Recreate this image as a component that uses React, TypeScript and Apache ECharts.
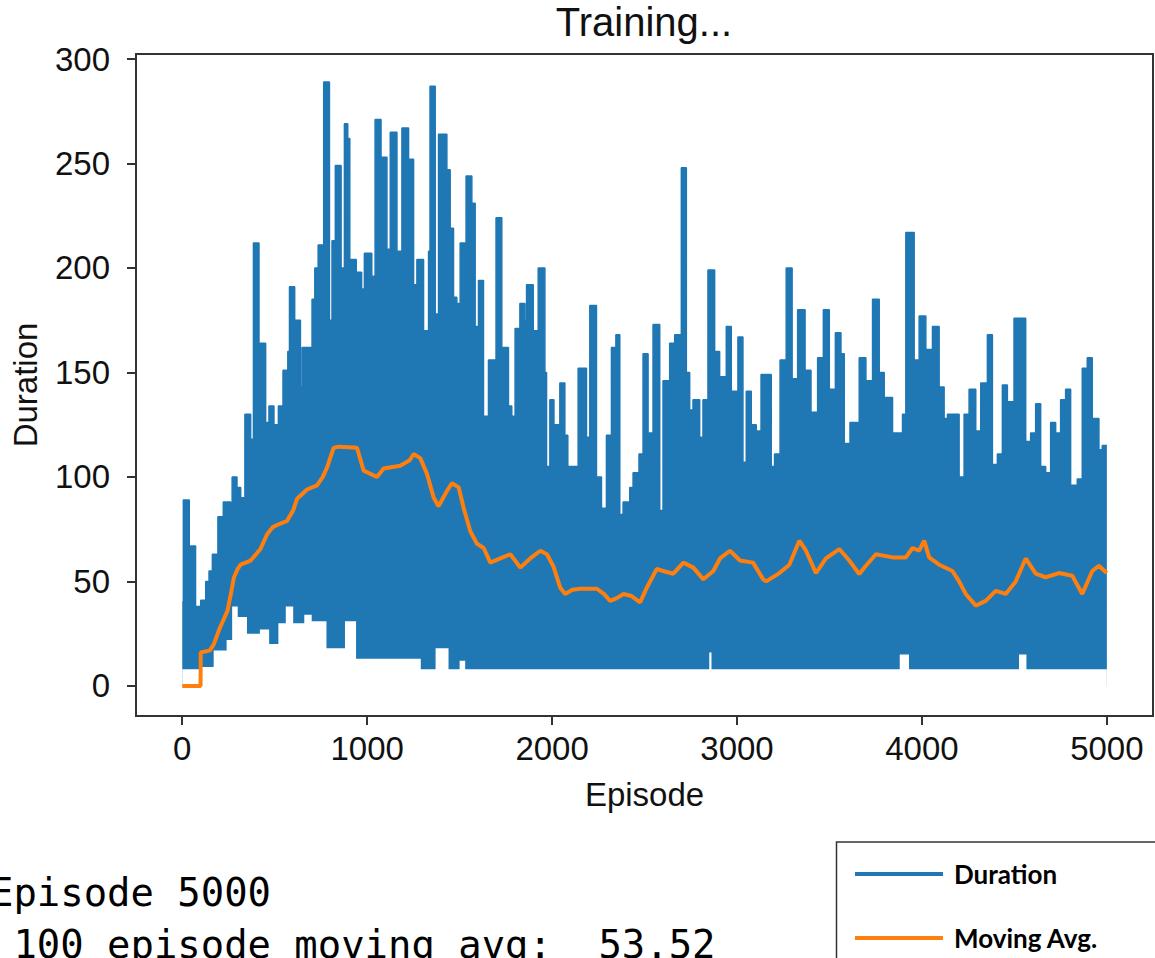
import React, { useEffect, useRef } from "react";
import * as echarts from "echarts";

// Duration (upper envelope of the raw episode durations, held from each start episode to the next)
const durationEpisodes = [
  0, 6, 38, 72, 100, 127, 145, 163, 193, 222, 262, 270, 296, 316, 339, 370, 385, 415, 451, 469,
  496, 520, 545, 571, 580, 608, 639, 648, 702, 717, 735, 765, 796, 810, 828, 859, 877, 895, 906, 941,
  970, 985, 1025, 1043, 1075, 1107, 1125, 1161, 1188, 1224, 1251, 1269, 1305, 1332, 1340, 1368, 1386, 1431, 1449, 1467,
  1485, 1503, 1535, 1566, 1584, 1602, 1629, 1656, 1697, 1728, 1764, 1782, 1800, 1826, 1853, 1862, 1898, 1925, 1961, 1970,
  1988, 2010, 2042, 2069, 2085, 2141, 2186, 2204, 2240, 2267, 2294, 2321, 2345, 2366, 2384, 2420, 2438, 2470, 2492, 2519,
  2546, 2582, 2600, 2636, 2663, 2699, 2726, 2744, 2762, 2798, 2816, 2843, 2879, 2906, 2942, 2969, 3005, 3032, 3050, 3077,
  3104, 3130, 3185, 3203, 3233, 3266, 3298, 3328, 3368, 3400, 3436, 3467, 3499, 3532, 3562, 3580, 3611, 3661, 3697, 3733,
  3769, 3796, 3841, 3895, 3913, 3958, 3985, 4021, 4057, 4093, 4120, 4138, 4201, 4228, 4255, 4291, 4318, 4354, 4381, 4408,
  4435, 4462, 4498, 4561, 4588, 4615, 4642, 4669, 4696, 4723, 4750, 4777, 4804, 4840, 4867, 4894, 4921, 4957, 4975, 5000,
];
const durationValues = [
  40, 89, 67, 38, 41, 50, 55, 63, 81, 88, 82, 100, 95, 90, 130, 118, 212, 164, 126, 134,
  125, 134, 151, 160, 191, 175, 143, 162, 185, 200, 211, 289, 175, 213, 249, 200, 269, 262, 204, 198,
  190, 207, 196, 271, 253, 209, 265, 208, 267, 252, 192, 204, 170, 208, 287, 178, 264, 247, 219, 186,
  183, 212, 244, 231, 172, 194, 129, 156, 224, 162, 134, 129, 171, 183, 175, 192, 170, 200, 150, 105,
  137, 125, 145, 120, 105, 152, 119, 182, 100, 85, 120, 162, 168, 82, 88, 95, 102, 111, 159, 121,
  173, 84, 146, 164, 168, 248, 150, 132, 137, 119, 137, 199, 160, 148, 172, 141, 167, 107, 141, 125,
  122, 149, 105, 111, 156, 200, 147, 180, 151, 131, 157, 180, 142, 169, 159, 116, 126, 157, 146, 185,
  150, 138, 121, 130, 217, 156, 177, 161, 172, 143, 128, 130, 100, 130, 142, 122, 145, 168, 106, 111,
  144, 136, 176, 117, 121, 135, 105, 102, 126, 121, 137, 142, 96, 99, 152, 157, 128, 113, 115, 115,
];

// Lower envelope of the raw durations
const floorEpisodes = [0, 100, 170, 240, 270, 300, 350, 420, 470, 520, 560, 600, 660, 700, 780, 880, 940, 1290, 1370, 1440, 1500, 1530, 2850, 2862, 3880, 3930, 4525, 4565, 5000];
const floorValues = [8, 9, 17, 22, 38, 33, 25, 27, 20, 30, 38, 30, 34, 31, 18, 31, 13, 8, 18, 8, 12, 8, 16, 8, 15, 8, 15, 8, 8];

// 100-episode moving average
const avgEpisodes = [
  0, 99, 100, 150, 171, 200, 245, 265, 280, 300, 316, 370, 423, 459, 490, 513, 567, 600, 621, 675,
  729, 760, 783, 819, 850, 945, 981, 1053, 1089, 1179, 1230, 1251, 1287, 1323, 1360, 1386, 1432, 1459, 1495, 1522,
  1558, 1594, 1630, 1666, 1720, 1774, 1800, 1828, 1882, 1936, 1972, 2008, 2044, 2071, 2110, 2152, 2242, 2280, 2314, 2350,
  2386, 2430, 2476, 2512, 2566, 2600, 2656, 2710, 2764, 2818, 2872, 2908, 2962, 3016, 3087, 3141, 3158, 3229, 3283, 3337,
  3373, 3427, 3481, 3553, 3607, 3661, 3697, 3751, 3841, 3913, 3949, 3985, 4012, 4039, 4093, 4165, 4201, 4237, 4291, 4345,
  4399, 4453, 4507, 4561, 4615, 4669, 4741, 4813, 4867, 4921, 4957, 4999,
];
const avgValues = [
  0, 0, 16, 17, 20, 27, 36, 45, 52, 56, 58, 60, 65.5, 72.6, 76, 77, 79, 84, 89.6, 94,
  96, 100, 104.5, 114, 114.5, 114, 103, 100, 104, 105.4, 108, 111, 109, 101.6, 90, 86, 93.4, 97, 95, 85,
  74, 68, 66, 59, 61, 63, 60, 56.6, 61, 64.7, 63, 57, 47, 44, 46, 46.5, 46.5, 44, 40.7, 42,
  44, 43, 40, 47, 56, 55, 53.7, 59, 56.6, 51, 55, 61, 64.7, 60, 59, 51, 50, 54, 58, 69.5,
  64.7, 54, 61, 65.5, 60, 53.5, 57.5, 63, 61.5, 61.5, 66, 64.7, 69.5, 61.5, 58, 55, 50, 44, 38.4, 40.7,
  45.5, 44, 50, 61, 53.7, 52, 54, 52.7, 44, 55, 57.5, 54,
];

const xTicks = [0, 1000, 2000, 3000, 4000, 5000];
const yTicks = [0, 50, 100, 150, 200, 250, 300];

const SANS = "'Liberation Sans', Arial, sans-serif";
const MONO = "'DejaVu Sans Mono', monospace";

export default function App() {
  const ref = useRef<HTMLDivElement>(null);

  useEffect(() => {
    if (!ref.current) return;
    const chart = echarts.init(ref.current, undefined, { renderer: "svg" });
    const pairs = (xs: number[], ys: number[]) => xs.map((x, i) => [x, ys[i]]);
    const axisText = { fontSize: 33, color: "#111", fontFamily: SANS };
    const plain = (v: number) => String(v);

    chart.setOption({
      animation: false,
      textStyle: { fontFamily: SANS },
      grid: {
        left: 136,
        top: 54,
        right: 2,
        bottom: 242,
        show: true,
        borderColor: "#333",
        borderWidth: 2,
        backgroundColor: "transparent",
        containLabel: false,
      },
      xAxis: {
        type: "value",
        min: -250,
        max: 5249.5,
        axisLine: { show: false, onZero: false },
        splitLine: { show: false },
        axisTick: { show: true, customValues: xTicks, length: 9, lineStyle: { color: "#333", width: 2 } },
        axisLabel: { customValues: xTicks, margin: 16, formatter: plain, ...axisText },
        name: "Episode",
        nameLocation: "middle",
        nameGap: 62,
        nameTextStyle: axisText,
      },
      yAxis: {
        type: "value",
        min: -14.4,
        max: 302.4,
        axisLine: { show: false, onZero: false },
        splitLine: { show: false },
        axisTick: { show: true, customValues: yTicks, length: 9, lineStyle: { color: "#333", width: 2 } },
        axisLabel: { customValues: yTicks, margin: 26, formatter: plain, ...axisText },
        name: "Duration",
        nameLocation: "middle",
        nameGap: 94,
        nameTextStyle: axisText,
      },
      legend: {
        orient: "vertical",
        left: 836,
        top: 842,
        data: [
          { name: "Duration", icon: "rect" },
          { name: "Moving Avg.", icon: "rect" },
        ],
        itemWidth: 88,
        itemHeight: 4,
        itemGap: 38,
        padding: [19, 0, 0, 19],
        selectedMode: false,
        textStyle: {
          fontFamily: "Lato, 'Open Sans', sans-serif",
          fontWeight: "bold",
          fontSize: 26,
          lineHeight: 26,
          color: "#000",
          padding: [0, 0, 0, 6],
        },
      },
      graphic: [
        {
          type: "rect",
          shape: { x: 836.5, y: 842, width: 340, height: 131 },
          style: { fill: "none", stroke: "#333", lineWidth: 1.5 },
          silent: true,
        },
        {
          type: "text",
          x: 644,
          y: 22,
          style: { text: "Training...", fill: "#111", fontSize: 40, fontFamily: SANS, align: "center", verticalAlign: "middle" },
        },
        {
          type: "text",
          x: -10,
          y: 892,
          style: { text: "Episode 5000", fill: "#000", fontSize: 38.9, fontFamily: MONO, align: "left", verticalAlign: "middle" },
        },
        {
          type: "text",
          x: 13.4,
          y: 944,
          style: { text: "100 episode moving avg:", fill: "#000", fontSize: 38.9, fontFamily: MONO, align: "left", verticalAlign: "middle" },
        },
        {
          type: "text",
          x: 598.4,
          y: 944,
          style: { text: "53.52", fill: "#000", fontSize: 38.9, fontFamily: MONO, align: "left", verticalAlign: "middle" },
        },
      ],
      series: [
        {
          name: "Duration",
          type: "line",
          step: "end",
          data: pairs(durationEpisodes, durationValues),
          symbol: "none",
          color: "#1f77b4",
          lineStyle: { width: 1.5, color: "#1f77b4" },
          areaStyle: { color: "#1f77b4", opacity: 1 },
          z: 2,
          silent: true,
        },
        {
          name: "floor",
          type: "line",
          step: "end",
          data: pairs(floorEpisodes, floorValues),
          symbol: "none",
          lineStyle: { width: 0, opacity: 0 },
          areaStyle: { color: "#ffffff", opacity: 1 },
          z: 3,
          silent: true,
        },
        {
          name: "Moving Avg.",
          type: "line",
          data: pairs(avgEpisodes, avgValues),
          symbol: "none",
          color: "#ff7f0e",
          lineStyle: { width: 4, color: "#ff7f0e" },
          z: 4,
          silent: true,
        },
      ],
    });
    return () => chart.dispose();
  }, []);

  return (
    <div
      ref={ref}
      style={{ position: "absolute", left: 0, top: 0, width: 1155, height: 958, background: "#fff" }}
    />
  );
}
